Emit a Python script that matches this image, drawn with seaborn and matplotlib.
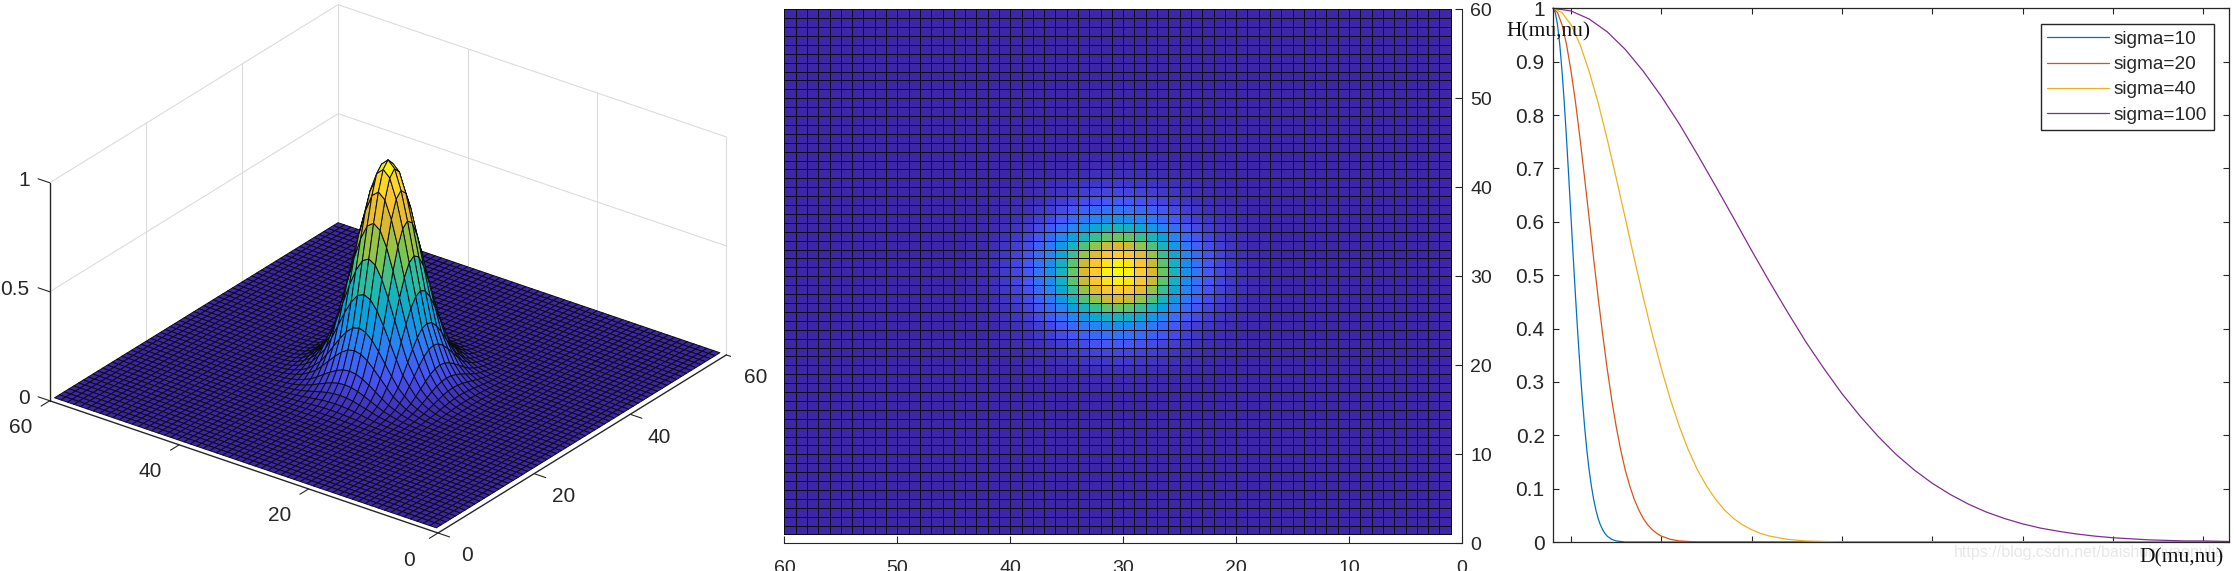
import numpy as np
import pandas as pd
import seaborn as sns
import matplotlib
matplotlib.use('Agg')
import matplotlib.pyplot as plt
from matplotlib.colors import LinearSegmentedColormap
from mpl_toolkits.mplot3d import proj3d

# filter profile along one row of the grid (peak at cell 30)
cells = list(range(1, 61))
profile = [0, 0, 0, 0, 0, 0, 0, 0, 0, 0,
           0, 0, 0, 0, 0, 0.003, 0.007, 0.015, 0.03, 0.055,
           0.09, 0.14, 0.22, 0.31, 0.45, 0.6, 0.75, 0.88, 0.97, 1.0,
           0.97, 0.88, 0.75, 0.6, 0.45, 0.31, 0.22, 0.14, 0.09, 0.055,
           0.03, 0.015, 0.007, 0.003, 0, 0, 0, 0, 0, 0,
           0, 0, 0, 0, 0, 0, 0, 0, 0, 0]

# the three narrow curves have the same shape, so they share one list of heights
h_read = [1, 0.992, 0.969, 0.932, 0.882, 0.823, 0.755, 0.682, 0.607, 0.531, 0.458, 0.389, 0.325, 0.267, 0.216,
          0.172, 0.135, 0.105, 0.080, 0.060, 0.044, 0.032, 0.023, 0.016, 0.011, 0.005, 0.002, 0.001, 0, 0]
d_10 = [0, 1.25, 2.5, 3.75, 5, 6.25, 7.5, 8.75, 10, 11.25, 12.5, 13.75, 15, 16.25, 17.5,
        18.75, 20, 21.25, 22.5, 23.75, 25, 26.25, 27.5, 28.75, 30, 32.5, 35, 37.5, 40, 374]
d_20 = [0, 2.5, 5, 7.5, 10, 12.5, 15, 17.5, 20, 22.5, 25, 27.5, 30, 32.5, 35,
        37.5, 40, 42.5, 45, 47.5, 50, 52.5, 55, 57.5, 60, 65, 70, 75, 80, 374]
d_40 = [0, 5, 10, 15, 20, 25, 30, 35, 40, 45, 50, 55, 60, 65, 70,
        75, 80, 85, 90, 95, 100, 105, 110, 115, 120, 130, 140, 150, 160, 374]
d_100 = [0, 10, 20, 30, 40, 50, 60, 70, 80, 90, 100, 110, 120, 130, 140, 150, 160, 170, 180, 190,
         200, 210, 220, 230, 240, 250, 260, 270, 280, 290, 300, 310, 320, 330, 340, 350, 360, 374]
h_100 = [1, 0.995, 0.980, 0.956, 0.923, 0.882, 0.835, 0.783, 0.726, 0.667, 0.607, 0.546, 0.487, 0.430, 0.375, 0.325, 0.278, 0.236, 0.198, 0.164,
         0.135, 0.110, 0.089, 0.071, 0.056, 0.044, 0.034, 0.026, 0.020, 0.015, 0.011, 0.008, 0.006, 0.004, 0.003, 0.002, 0.002, 0.001]

sigma_labels = ['sigma=10', 'sigma=20', 'sigma=40', 'sigma=100']
line_colors = ['#0072BD', '#D95319', '#EDB120', '#7E2F8E']
h_ticks = [0, 0.1, 0.2, 0.3, 0.4, 0.5, 0.6, 0.7, 0.8, 0.9, 1]
h_tick_labels = ['0', '0.1', '0.2', '0.3', '0.4', '0.5', '0.6', '0.7', '0.8', '0.9', '1']
d_ticks = [10, 60, 110, 160, 210, 260, 310, 360]
flat_ticks = [0, 10, 20, 30, 40, 50, 60]
surf_ticks = [0, 20, 40, 60]

W, H = 2234, 571
AX_COLOR = '#262626'
GRID_COLOR = '#dcdcdc'
CELL_EDGE = '#0c0c14'

sns.set_theme(style='white')
plt.rcParams['font.family'] = ['Liberation Sans', 'DejaVu Sans']
plt.rcParams['text.color'] = AX_COLOR
plt.rcParams['xtick.color'] = AX_COLOR
plt.rcParams['ytick.color'] = AX_COLOR

parula = LinearSegmentedColormap.from_list('parula', [
    (0.000, (0.2422, 0.1504, 0.6603)),
    (0.125, (0.2810, 0.3228, 0.9579)),
    (0.250, (0.1730, 0.4950, 0.9740)),
    (0.375, (0.0360, 0.6400, 0.8570)),
    (0.500, (0.1380, 0.7350, 0.6640)),
    (0.625, (0.4780, 0.7810, 0.3180)),
    (0.750, (0.8520, 0.7250, 0.1890)),
    (0.875, (0.9950, 0.7800, 0.2000)),
    (1.000, (0.9763, 0.9831, 0.0538)),
])

Z = np.outer(profile, profile)


def px_axes(fig, left, top, right, bottom, **kw):
    return fig.add_axes([left / W, 1 - bottom / H, (right - left) / W, (bottom - top) / H], **kw)


fig = plt.figure(figsize=(W / 100, H / 100), dpi=100)

# left panel: surface
ax1 = fig.add_axes([0.02, 0.02, 0.3, 0.3 * W / H], projection='3d')
ax1.set_proj_type('ortho')
ax1.view_init(elev=27.3, azim=216.6)
ax1.set_box_aspect((483, 483, 245))
ax1.computed_zorder = False
ax1.set_xlim(0, 60)
ax1.set_ylim(0, 60)
ax1.set_zlim(0, 1)
ax1.set_axis_off()

X, Y = np.meshgrid(cells, cells)
ax1.plot_surface(X, Y, Z, rstride=1, cstride=1, cmap=parula, vmin=0, vmax=1,
                 edgecolor=CELL_EDGE, linewidth=0.7, zorder=2)

# walls
for t in [20, 40, 60]:
    ax1.plot([t, t], [60, 60], [0, 1], color=GRID_COLOR, lw=0.8, zorder=1)
    ax1.plot([60, 60], [60 - t, 60 - t], [0, 1], color=GRID_COLOR, lw=0.8, zorder=1)
for z in [0.5, 1]:
    ax1.plot([0, 60], [60, 60], [z, z], color=GRID_COLOR, lw=0.8, zorder=1)
    ax1.plot([60, 60], [0, 60], [z, z], color=GRID_COLOR, lw=0.8, zorder=1)

# axis lines, ticks and labels
ax1.plot([0, 60], [0, 0], [0, 0], color=AX_COLOR, lw=1, zorder=3)
ax1.plot([0, 0], [0, 60], [0, 0], color=AX_COLOR, lw=1, zorder=3)
ax1.plot([0, 0], [60, 60], [0, 1], color=AX_COLOR, lw=1, zorder=3)
for t in surf_ticks:
    ax1.plot([t, t], [0, -1.8], [0, 0], color=AX_COLOR, lw=0.8, zorder=3)
    ax1.plot([0, -1.8], [t, t], [0, 0], color=AX_COLOR, lw=0.8, zorder=3)
    ax1.text(t - 2.8, -6.6, 0, str(t), fontsize=15, ha='center', va='center', zorder=4)
    ax1.text(-8, t - 1.5, 0, str(t), fontsize=15, ha='center', va='center', zorder=4)
for z, lab in zip([0, 0.5, 1], ['0', '0.5', '1']):
    ax1.plot([0, 0], [60, 61.8], [z, z], color=AX_COLOR, lw=0.8, zorder=3)
    ax1.text(0, 63.1, z - 0.02, lab, fontsize=15, ha='right', va='center', zorder=4)

# scale and shift the square 3d axes so the floor lands on the reference corners
front_px, left_px = (438, H - 533), (50, H - 400)


def corner_px(x, y, z):
    fig.canvas.draw()
    px, py, _ = proj3d.proj_transform(x, y, z, ax1.get_proj())
    return ax1.transData.transform((px, py))


pos = ax1.get_position()
a = corner_px(0, 0, 0)
b = corner_px(0, 60, 0)
scale = np.hypot(front_px[0] - left_px[0], front_px[1] - left_px[1]) / np.hypot(*(a - b))
ax1.set_position([pos.x0, pos.y0, pos.width * scale, pos.height * scale])
pos = ax1.get_position()
a = corner_px(0, 0, 0)
ax1.set_position([pos.x0 + (front_px[0] - a[0]) / W, pos.y0 + (front_px[1] - a[1]) / H, pos.width, pos.height])

# middle panel: same data seen from above
ax2 = px_axes(fig, 784.4, 9.3, 1462, 543.3)
sns.heatmap(Z[:-1, :-1], cmap=parula, vmin=0, vmax=1, cbar=False, linewidths=0.7, linecolor=CELL_EDGE, ax=ax2)
ax2.set_xlim(59, -1)
ax2.set_ylim(-1, 59)
ax2.set_xticks([t - 1 for t in flat_ticks], labels=flat_ticks, rotation=0)
ax2.set_yticks([t - 1 for t in flat_ticks], labels=flat_ticks, rotation=0)
ax2.yaxis.tick_right()
for side in ['left', 'top']:
    ax2.spines[side].set_visible(False)
for side in ['right', 'bottom']:
    ax2.spines[side].set_visible(True)
    ax2.spines[side].set_color(AX_COLOR)
    ax2.spines[side].set_linewidth(0.8)
ax2.tick_params(axis='x', bottom=True, direction='in', length=5, width=0.8, pad=12, labelsize=14)
ax2.tick_params(axis='y', right=True, left=False, direction='in', length=5, width=0.8, pad=6, labelsize=14)

# right panel: filter curves
curves = pd.concat([
    pd.DataFrame({'D': d, 'H': h, 'sigma': lab})
    for d, h, lab in zip([d_10, d_20, d_40, d_100], [h_read, h_read, h_read, h_100], sigma_labels)
])
ax3 = px_axes(fig, 1553, 8.3, 2229, 542)
sns.lineplot(data=curves, x='D', y='H', hue='sigma', hue_order=sigma_labels, palette=line_colors,
             estimator=None, linewidth=0.9, clip_on=False, ax=ax3)
ax3.set_xlim(0, 374.3)
ax3.set_ylim(0, 1)
ax3.set_xlabel('')
ax3.set_ylabel('')
ax3.set_xticks(d_ticks, labels=[])
ax3.set_yticks(h_ticks, labels=h_tick_labels)
ax3.tick_params(axis='both', direction='in', length=4.3, width=0.8, top=True, bottom=True, left=True, right=True, labelsize=15)
ax3.tick_params(axis='y', pad=6)
for spine in ax3.spines.values():
    spine.set_color(AX_COLOR)
    spine.set_linewidth(0.9)
    spine.set_zorder(5)

handles, labels = ax3.get_legend_handles_labels()
ax3.legend(handles, labels, loc='upper right', bbox_to_anchor=((2214 - 1553) / 676, 1 - (24 - 8.3) / 533.7),
           fontsize=13.7, frameon=True, fancybox=False, framealpha=1, edgecolor=AX_COLOR, borderaxespad=0,
           handlelength=3.25, handletextpad=0.26, labelspacing=0.415, borderpad=0.35)

fig.text(1506 / W, 1 - 32 / H, 'H(mu,nu)', family='Liberation Serif', fontsize=15.5, va='center', ha='left', color='#111111', zorder=10)
fig.text(1954 / W, 1 - 553 / H, 'https://blog.csdn.net/baishuiniyaonulia', fontsize=11.5, va='center', ha='left', color='#e8e8e8', zorder=9)
fig.text(2139 / W, 1 - 558 / H, 'D(mu,nu)', family='Liberation Serif', fontsize=15.5, va='center', ha='left', color='#111111', zorder=10)

fig.savefig('out.png', dpi=100)
